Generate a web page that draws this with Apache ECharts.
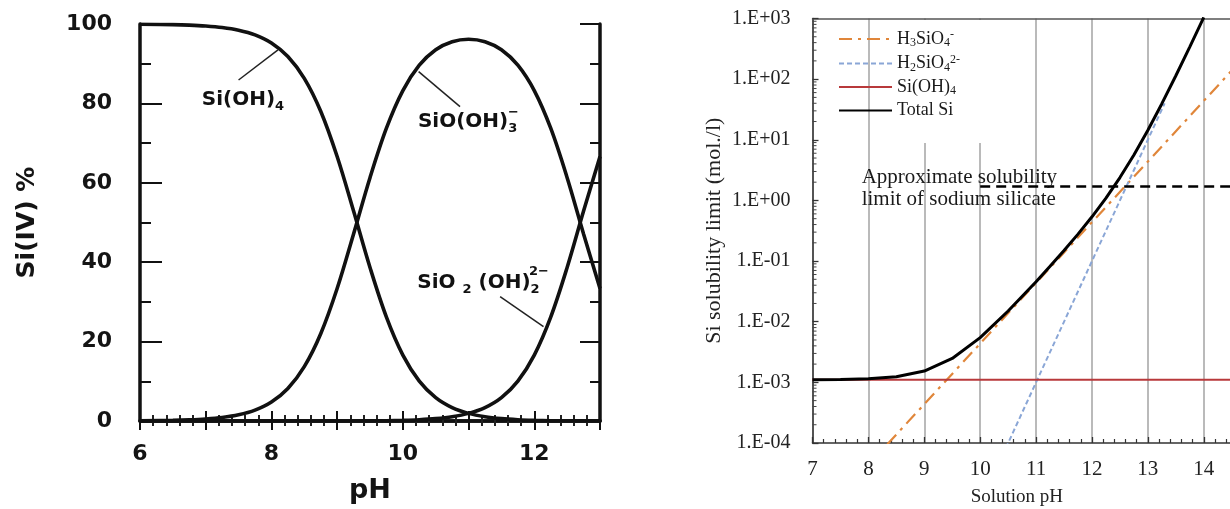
<!DOCTYPE html>
<html>
<head>
<meta charset="utf-8">
<script src="https://cdn.jsdelivr.net/npm/echarts@6/dist/echarts.min.js"></script>
<style>
  html, body { margin: 0; padding: 0; background: #ffffff; }
  #wrap { position: relative; width: 1230px; height: 509px; overflow: hidden; background: #ffffff; }
  #left, #right { position: absolute; left: 0; top: 0; width: 1230px; height: 509px; }
  /* the speciation panel is a soft photocopy-like drawing */
  #left { filter: blur(0.5px); }
</style>
</head>
<body>
<div id="wrap"><div id="left"></div><div id="right"></div></div>
<script>
// ---------- Left panel: Si(IV) species distribution (%) versus pH ----------
const specPH      = [6, 6.5, 6.75, 7, 7.25, 7.5, 7.75, 8, 8.25, 8.5, 8.75, 9, 9.25, 9.5, 9.75, 10, 10.25, 10.5, 10.75, 11, 11.25, 11.5, 11.75, 12, 12.25, 12.5, 12.75, 13];
const siOH4Pct    = [99.95, 99.84, 99.72, 99.5, 99.12, 98.44, 97.26, 95.23, 91.82, 86.32, 78.02, 66.61, 52.87, 38.67, 26.17, 16.61, 10.06, 5.9, 3.39, 1.92, 1.07, 0.59, 0.32, 0.17, 0.08, 0.04, 0.02, 0.01];
const siOOH3Pct   = [0.05, 0.16, 0.28, 0.5, 0.88, 1.56, 2.74, 4.77, 8.18, 13.68, 21.98, 33.38, 47.12, 61.29, 73.75, 83.23, 89.62, 93.51, 95.53, 96.16, 95.54, 93.51, 89.63, 83.23, 73.75, 61.29, 47.12, 33.38];
const siO2OH2Pct  = [0, 0, 0, 0, 0, 0, 0, 0, 0, 0, 0, 0.01, 0.02, 0.04, 0.08, 0.17, 0.32, 0.59, 1.07, 1.92, 3.39, 5.9, 10.06, 16.61, 26.17, 38.67, 52.87, 66.61];

const leftXTicks = ['6', '8', '10', '12'];
const leftYTicks = ['0', '20', '40', '60', '80', '100'];

// species labels (pH, %) and their leader lines
const speciesLabelPos  = [[6.94, 80.9], [10.23, 75.4], [10.22, 34.8]];
const speciesLabelText = ['{m|Si(OH)}{s|4}', '{m|SiO(OH)}{s|3}', '{m|SiO }{s|2}{m| (OH)}{s|2}'];
const speciesChargePos  = [[11.6, 77.8], [11.92, 37.6]];
const speciesChargeText = ['\u2212', '2\u2212'];
const leaderSiOH4   = [[7.5, 85.9], [8.1, 93.5]];
const leaderSiOOH3  = [[10.24, 88.0], [10.87, 79.2]];
const leaderSiO2OH2 = [[11.48, 31.3], [12.14, 23.8]];

// ---------- Right panel: Si solubility limit (mol/l) versus solution pH ----------
const phTotal  = [7, 7.5, 8, 8.5, 9, 9.5, 10, 10.5, 11, 11.25, 11.5, 11.75, 12, 12.25, 12.5, 12.75, 13, 13.25, 13.5, 13.75, 14];
const totalSi  = [1.104e-3, 1.114e-3, 1.144e-3, 1.238e-3, 1.537e-3, 2.481e-3, 5.475e-3, 0.015, 0.04575, 0.0819, 0.1491, 0.2782, 0.5376, 1.093, 2.381, 5.618, 14.37, 39.38, 113.8, 340.8, 1043.7];
const phH3SiO4 = [8, 9, 10, 11, 12, 13, 14, 14.6];
const h3SiO4   = [4.37e-5, 4.37e-4, 4.37e-3, 0.0437, 0.437, 4.37, 43.7, 174];
const phH2SiO4 = [10.4, 11, 12, 13, 13.3];
const h2SiO4   = [6.31e-5, 1e-3, 0.1, 10, 39.8];
const phSiOH4  = [7, 14.6];
const siOH4    = [1.1e-3, 1.1e-3];
const phLimit  = [10, 14.6];
const naSilicateLimit = [1.7, 1.7];

const rightYTicks = ['1.E-04', '1.E-03', '1.E-02', '1.E-01', '1.E+00', '1.E+01', '1.E+02', '1.E+03'];
const rightYDecades = [1e-4, 1e-3, 1e-2, 1e-1, 1, 10, 100];
const logMinorSteps = [2, 3, 4, 5, 6, 7, 8, 9];
const rightXTicks = ['7', '8', '9', '10', '11', '12', '13', '14'];
const seriesNames = ['H3SiO4-', 'H2SiO42-', 'Si(OH)4', 'Total Si'];
const legendRich = {
  'H3SiO4-':  '{n|H}{s|3}{n|SiO}{s|4}{p|-}',
  'H2SiO42-': '{n|H}{s|2}{n|SiO}{s|4}{p|2-}',
  'Si(OH)4':  '{n|Si(OH)}{s|4}',
  'Total Si': '{n|Total Si}'
};

const zip = (xs, ys) => xs.map((x, i) => [x, ys[i]]);

// ---------- left chart ----------
const sansBold = { fontFamily: 'DejaVu Sans', fontWeight: 'bold', color: '#141414' };
const leftAxisLine = { show: true, lineStyle: { color: '#111', width: 3.5 } };
// invisible anchor points that carry text labels
const labelDot = { symbol: 'circle', symbolSize: 0.01, itemStyle: { color: '#ffffff', opacity: 1 } };

const left = echarts.init(document.getElementById('left'), null, { renderer: 'canvas' });
left.setOption({
  animation: false,
  backgroundColor: '#ffffff',
  grid: { left: 140, top: 24, width: 460, height: 397, outerBoundsMode: 'none' },
  xAxis: [
    {
      type: 'value', min: 6, max: 13, interval: 1, position: 'bottom',
      name: 'pH', nameLocation: 'middle', nameGap: 56,
      nameTextStyle: Object.assign({ fontSize: 27 }, sansBold),
      axisLine: leftAxisLine,
      axisTick: { show: true, inside: true, length: 10, lineStyle: { color: '#111', width: 2 } },
      minorTick: { show: true, splitNumber: 5, length: 6, lineStyle: { color: '#222', width: 2 } },
      axisLabel: Object.assign({
        fontSize: 22, margin: 22,
        formatter: v => leftXTicks.includes(String(v)) ? String(v) : ''
      }, sansBold),
      splitLine: { show: false }
    },
    {
      type: 'value', min: 6, max: 13, interval: 1, position: 'top',
      axisLine: leftAxisLine,
      axisTick: { show: true, inside: true, length: 9, lineStyle: { color: '#111', width: 2 } },
      minorTick: { show: true, splitNumber: 5, length: 5, lineStyle: { color: '#222', width: 2 } },
      axisLabel: { show: false }, splitLine: { show: false }
    }
  ],
  yAxis: [
    {
      type: 'value', min: 0, max: 100, interval: 20, position: 'left',
      name: 'Si(IV) %', nameLocation: 'middle', nameGap: 100, nameRotate: 90,
      nameTextStyle: Object.assign({ fontSize: 25 }, sansBold),
      axisLine: leftAxisLine,
      axisTick: { show: true, inside: true, length: 22, lineStyle: { color: '#111', width: 2 } },
      minorTick: { show: true, splitNumber: 2, length: 11, lineStyle: { color: '#111', width: 2 } },
      axisLabel: Object.assign({
        fontSize: 22, margin: 28,
        formatter: v => leftYTicks.includes(String(v)) ? String(v) : ''
      }, sansBold),
      splitLine: { show: false }
    },
    {
      type: 'value', min: 0, max: 100, interval: 20, position: 'right',
      axisLine: leftAxisLine,
      axisTick: { show: true, inside: true, length: 20, lineStyle: { color: '#111', width: 2 } },
      minorTick: { show: true, splitNumber: 2, length: 10, lineStyle: { color: '#111', width: 2 } },
      axisLabel: { show: false }, splitLine: { show: false }
    }
  ],
  series: [
    { name: 'Si(OH)4', type: 'line', smooth: 0.35, symbol: 'none', data: zip(specPH, siOH4Pct),
      lineStyle: { color: '#111', width: 3.6 } },
    { name: 'SiO(OH)3-', type: 'line', smooth: 0.35, symbol: 'none', data: zip(specPH, siOOH3Pct),
      lineStyle: { color: '#111', width: 3.6 } },
    { name: 'SiO2(OH)2 2-', type: 'line', smooth: 0.35, symbol: 'none', data: zip(specPH, siO2OH2Pct),
      lineStyle: { color: '#111', width: 3.6 } },
    { type: 'line', symbol: 'none', data: leaderSiOH4, lineStyle: { color: '#222', width: 1.5 } },
    { type: 'line', symbol: 'none', data: leaderSiOOH3, lineStyle: { color: '#222', width: 1.5 } },
    { type: 'line', symbol: 'none', data: leaderSiO2OH2, lineStyle: { color: '#222', width: 1.5 } },
    Object.assign({
      type: 'scatter', z: 5,
      data: speciesLabelPos.map((p, i) => ({ value: p, text: speciesLabelText[i] })),
      label: {
        show: true, position: [0, 0], align: 'left', verticalAlign: 'middle', opacity: 1,
        formatter: p => p.data.text, color: '#111',
        rich: {
          m: { fontFamily: 'DejaVu Sans', fontWeight: 'bold', fontSize: 20, color: '#111', lineHeight: 26 },
          s: { fontFamily: 'DejaVu Sans', fontWeight: 'bold', fontSize: 13, color: '#111', lineHeight: 8, verticalAlign: 'bottom' }
        }
      }
    }, labelDot),
    Object.assign({
      type: 'scatter', z: 5,
      data: speciesChargePos.map((p, i) => ({ value: p, text: speciesChargeText[i] })),
      label: {
        show: true, position: [0, 0], align: 'left', verticalAlign: 'middle', opacity: 1,
        formatter: p => p.data.text,
        fontFamily: 'DejaVu Sans', fontWeight: 'bold', fontSize: 13, color: '#111'
      }
    }, labelDot)
  ]
});

// ---------- right chart ----------
const serif = 'Liberation Serif';
const right = echarts.init(document.getElementById('right'), null, { renderer: 'canvas' });
right.setOption({
  animation: false,
  grid: { left: 812.5, top: 18.5, right: -7.3, bottom: 66, outerBoundsMode: 'none' },
  legend: {
    orient: 'vertical', left: 833, top: 24,
    itemWidth: 53, itemHeight: 14, itemGap: 4.5,
    data: seriesNames,
    itemStyle: { color: 'rgba(0,0,0,0)', borderColor: 'rgba(0,0,0,0)', borderWidth: 0 },
    formatter: name => legendRich[name],
    textStyle: {
      fontFamily: serif, fontSize: 18, color: '#1a1a1a',
      rich: {
        n: { fontFamily: serif, fontSize: 18, color: '#1a1a1a', lineHeight: 20 },
        s: { fontFamily: serif, fontSize: 12, color: '#1a1a1a', lineHeight: 9, verticalAlign: 'bottom' },
        p: { fontFamily: serif, fontSize: 12, color: '#1a1a1a', lineHeight: 9, verticalAlign: 'top' }
      }
    }
  },
  graphic: [
    { type: 'rect', z: 1, shape: { x: 884, y: 20, width: 118, height: 123 }, style: { fill: '#ffffff' } }
  ],
  xAxis: [
    {
      type: 'value', min: 7, max: 14.6, interval: 1, position: 'bottom',
      name: 'Solution pH', nameLocation: 'middle', nameGap: 45,
      nameTextStyle: { fontFamily: serif, fontSize: 19, color: '#222', padding: [0, 16, 0, 0] },
      axisLine: { show: true, lineStyle: { color: '#333', width: 1.5 } },
      axisTick: { show: true, inside: true, length: 6, lineStyle: { color: '#333', width: 1.3 } },
      minorTick: { show: true, splitNumber: 5, length: 4, lineStyle: { color: '#333', width: 1.2 } },
      axisLabel: {
        fontFamily: serif, fontSize: 21, color: '#222', margin: 16,
        formatter: v => rightXTicks.includes(String(v)) ? String(v) : ''
      },
      splitLine: { show: true, lineStyle: { color: '#a3a3a3', width: 1.5 } }
    },
    {
      type: 'value', min: 7, max: 14.6, interval: 1, position: 'top',
      axisLine: { show: true, lineStyle: { color: '#555', width: 1.5 } },
      axisTick: { show: false }, axisLabel: { show: false }, splitLine: { show: false }
    }
  ],
  yAxis: {
    type: 'log', logBase: 10, min: 1e-4, max: 1e3, splitNumber: 7,
    name: 'Si solubility limit (mol./l)', nameLocation: 'middle', nameGap: 87, nameRotate: 90,
    nameTextStyle: { fontFamily: serif, fontSize: 22, color: '#222' },
    axisLine: { show: true, lineStyle: { color: '#333', width: 1.5 } },
    axisTick: { show: true, inside: true, length: 6, lineStyle: { color: '#333', width: 1.3 } },
    minorTick: { show: false },
    axisLabel: {
      fontFamily: serif, fontSize: 20, color: '#222', margin: 22,
      formatter: v => rightYTicks[Math.round(Math.log10(v)) + 4] || ''
    },
    splitLine: { show: false }
  },
  series: [
    { name: 'H3SiO4-', type: 'line', symbol: 'none', z: 3, data: zip(phH3SiO4, h3SiO4),
      lineStyle: { color: '#e0863a', width: 2.2, type: [13, 6, 3, 6] }, itemStyle: { color: '#e0863a' } },
    { name: 'H2SiO42-', type: 'line', symbol: 'none', z: 3, data: zip(phH2SiO4, h2SiO4),
      lineStyle: { color: '#8aa6d6', width: 2, type: [5, 3] }, itemStyle: { color: '#8aa6d6' } },
    { name: 'Si(OH)4', type: 'line', symbol: 'none', z: 3, data: zip(phSiOH4, siOH4),
      lineStyle: { color: '#b8393b', width: 2 }, itemStyle: { color: '#b8393b' } },
    { name: 'Total Si', type: 'line', symbol: 'none', z: 4, data: zip(phTotal, totalSi),
      lineStyle: { color: '#000', width: 3 }, itemStyle: { color: '#000' } },
    { type: 'line', symbol: 'none', z: 3, data: zip(phLimit, naSilicateLimit),
      lineStyle: { color: '#000', width: 2.6, type: [10, 6] } },
    // logarithmic minor ticks along the y axis (2..9 within each decade)
    {
      type: 'custom', z: 3, silent: true,
      data: rightYDecades.flatMap(d => logMinorSteps.map(k => [7, d * k])),
      renderItem: (params, api) => {
        const p = api.coord([api.value(0), api.value(1)]);
        return { type: 'line', shape: { x1: p[0], y1: p[1], x2: p[0] + 4, y2: p[1] },
                 style: { stroke: '#444', lineWidth: 1 } };
      }
    },
    Object.assign({
      type: 'scatter', z: 5,
      data: [[7.88, 1.6]],
      label: {
        show: true, position: [0, 0], align: 'left', verticalAlign: 'middle', opacity: 1,
        formatter: 'Approximate solubility\nlimit of sodium silicate',
        fontFamily: serif, fontSize: 21, lineHeight: 22, color: '#1a1a1a'
      }
    }, labelDot)
  ]
});
</script>
</body>
</html>
